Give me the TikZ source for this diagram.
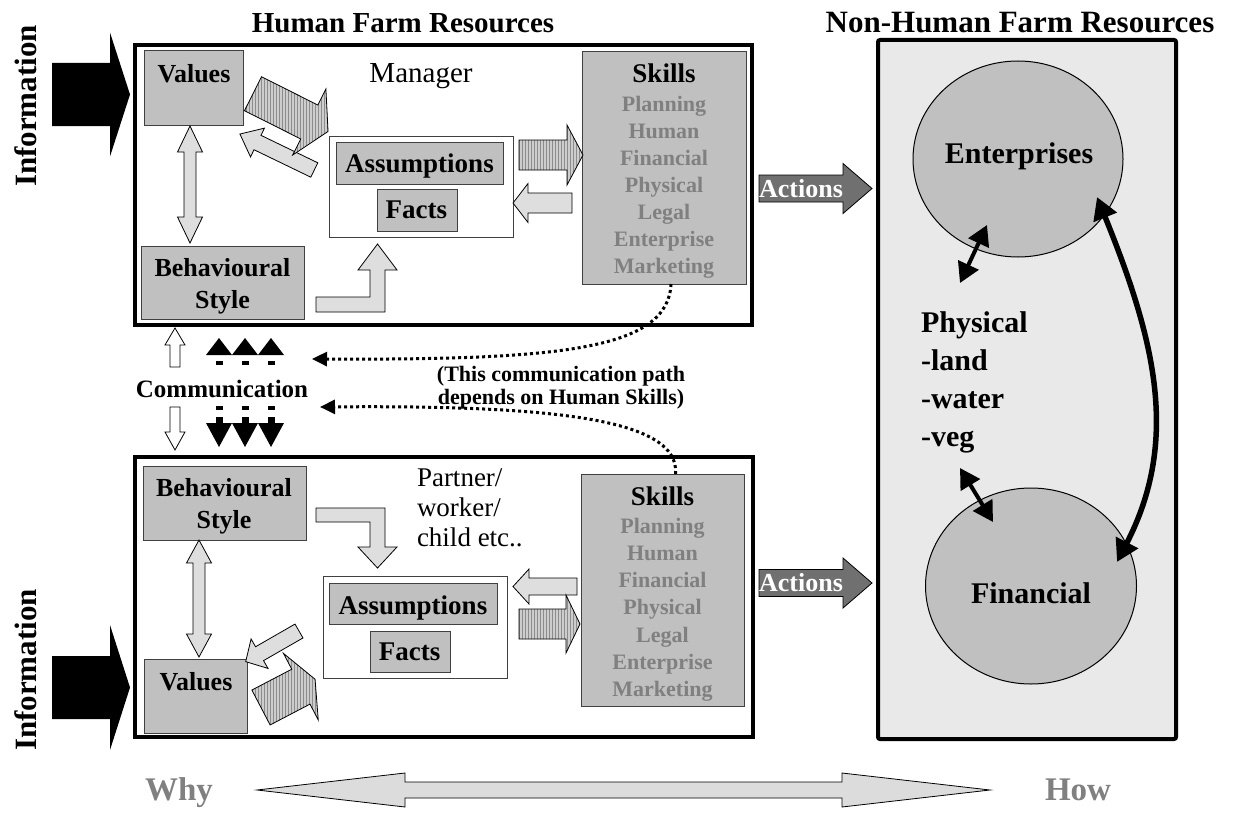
\documentclass[tikz,border=0pt]{standalone}
\usepackage{fontspec}
\setmainfont{Liberation Serif}
\usetikzlibrary{arrows.meta,shapes.geometric,fit,patterns}

\definecolor{boxgray}{RGB}{192,192,192}
\definecolor{panelgray}{RGB}{233,233,233}
\definecolor{txtgray}{RGB}{128,128,128}
\definecolor{hatchfill}{RGB}{205,205,205}
\definecolor{hatchline}{RGB}{140,140,140}
\definecolor{dotfill}{RGB}{222,222,222}
\definecolor{actfill}{RGB}{112,112,112}
\definecolor{sidefill}{RGB}{220,220,220}

\newcommand\setfs[1]{\fontsize{#1pt}{#1pt}\selectfont}

% block arrow: style, tail x, tail y, angle, length, shaft half-width, head half-width, head length
\newcommand\blockarrow[8]{%
  \begin{scope}[shift={(#2,#3)},rotate=#4]
    \path[#1] (0,-#6) -- ({#5-#8},-#6) -- ({#5-#8},-#7) -- (#5,0)
      -- ({#5-#8},#7) -- ({#5-#8},#6) -- (0,#6) -- cycle;
  \end{scope}}

% two-headed block arrow: style, first tip x, y, angle, length, shaft half-width, head half-width, head length
\newcommand\twowayarrow[8]{%
  \begin{scope}[shift={(#2,#3)},rotate=#4]
    \path[#1] (0,0) -- (#8,#7) -- (#8,#6) -- ({#5-#8},#6) -- ({#5-#8},#7) -- (#5,0)
      -- ({#5-#8},-#7) -- ({#5-#8},-#6) -- (#8,-#6) -- (#8,-#7) -- cycle;
  \end{scope}}

\begin{document}
\begin{tikzpicture}[x=1pt,y=-1pt,
  every node/.style={inner sep=0pt, outer sep=0pt},
  graybox/.style={draw=black!75, line width=1pt, fill=boxgray},
  whitebox/.style={draw=black!75, line width=1pt, fill=white},
  frame/.style={draw=black, line width=4pt},
  hatcharrow/.style={draw=black, line width=0.8pt, preaction={fill=hatchfill},
    pattern=vertical lines, pattern color=hatchline},
  dotarrow/.style={draw=black, line width=0.8pt, fill=dotfill},
  whitearrow/.style={draw=black, line width=0.8pt, fill=white},
  infoarrow/.style={fill=black},
  actarrow/.style={draw=black, line width=0.8pt, fill=actfill},
  sidearrow/.style={draw=black, line width=0.8pt, fill=sidefill},
  dotconn/.style={line width=3pt, dash pattern=on 3pt off 3pt,
    -{Triangle[length=15pt,width=14pt]}},
  blkdbl/.style={line width=4pt,
    {Triangle[length=20pt,width=22pt]}-{Triangle[length=20pt,width=22pt]}},
  bigdbl/.style={line width=5.5pt,
    {Triangle[length=22pt,width=24pt]}-{Triangle[length=22pt,width=24pt]}},
  lbl/.style={font=\bfseries\setfs{26}, anchor=base},
  item/.style={font=\bfseries\setfs{22}, text=txtgray, anchor=base},
  plain/.style={font=\setfs{27}, anchor=base west},
  acttext/.style={font=\bfseries\setfs{26}, text=white},
  big/.style={font=\bfseries\setfs{30}, anchor=base}
]
\useasboundingbox (0,0) rectangle (1234,816);
\fill[white] (0,0) rectangle (1234,816);

% ---------- headings ----------
\node[font=\bfseries\setfs{29}, anchor=base] (ttlH) at (403,33) {Human Farm Resources};
\node[font=\bfseries\setfs{31}, anchor=base] (ttlN) at (1020,33) {Non-Human Farm Resources};

% ---------- outer frames ----------
\node[frame, fit={(135,45) (752,325)}] (mgr) {};
\node[frame, fit={(135,457) (753,737)}] (prt) {};
\node[frame, fill=panelgray, rounded corners=2pt, fit={(878,40) (1176,739)}] (nonh) {};

% ---------- information inputs ----------
\blockarrow{infoarrow}{52}{94.5}{0}{78}{31.5}{62}{20}
\blockarrow{infoarrow}{52}{687.5}{0}{78}{31.5}{62.5}{20}
\node[font=\bfseries\setfs{31}, rotate=90] (inf1) at (26,106) {Information};
\node[font=\bfseries\setfs{31}, rotate=90] (inf2) at (26,670) {Information};

% ---------- manager ----------
\node[graybox, fit={(144,51) (243,125)}] (val1) {};
\node[lbl] (val1t) at (194,82) {Values};
\node[graybox, fit={(141,246) (304,319)}] (beh1) {};
\node[lbl] (beh1a) at (222.5,276.7) {Behavioural};
\node[lbl] (beh1b) at (222.5,308) {Style};
\twowayarrow{dotarrow}{190}{126}{-90}{117}{6}{12.5}{26}

\node[font=\setfs{29}, anchor=base] (mgrt) at (421,82) {Manager};
\node[whitebox, fit={(329,136) (513,237)}] (af1) {};
\node[graybox, fit={(336,142) (503,184)}] (ass1) {};
\node[lbl, font=\bfseries\setfs{27}] (ass1t) at (419.5,172.7) {Assumptions};
\node[graybox, fit={(377,189) (457,231)}] (fac1) {};
\node[lbl, font=\bfseries\setfs{27}] (fac1t) at (416.3,218.3) {Facts};

\node[graybox, fit={(582,52) (746,284)}] (sk1) {};
\node[lbl, font=\bfseries\setfs{27}] (sk1t) at (664,82.7) {Skills};
\foreach \s [count=\i from 0] in {Planning,Human,Financial,Physical,Legal,Enterprise,Marketing}
  \node[item] (sk1i\i) at (664,111+27*\i) {\s};

\blockarrow{hatcharrow}{519}{155}{0}{64}{15}{30}{16}
\blockarrow{dotarrow}{572}{203}{180}{59}{10}{19.5}{15}
\path[dotarrow] (316,297) -- (370,297) -- (370,270) -- (358,270) -- (377.5,244)
  -- (397,270) -- (385,270) -- (385,312) -- (316,312) -- cycle;
\blockarrow{dotarrow}{314.3}{170}{154.2}{82.6}{8}{16}{19.5}
\blockarrow{hatcharrow}{253}{93.7}{-26.7}{84}{19}{37}{21}

\blockarrow{actarrow}{759}{188.5}{0}{113}{13.5}{25}{29}
\node[acttext] (act1) at (801,188.5) {Actions};

% ---------- partner / worker ----------
\node[graybox, fit={(143,466) (306,540)}] (beh2) {};
\node[lbl] (beh2a) at (224,496.7) {Behavioural};
\node[lbl] (beh2b) at (224,528) {Style};
\node[graybox, fit={(144,659) (247,733)}] (val2) {};
\node[lbl] (val2t) at (196,690) {Values};
\twowayarrow{dotarrow}{199}{540}{-90}{117}{6}{12.5}{23}

\node[plain] (pw1) at (417,486.7) {Partner/};
\node[plain] (pw2) at (417,516.7) {worker/};
\node[plain] (pw3) at (417,546.7) {child etc..};

\node[whitebox, fit={(323,576) (507,678)}] (af2) {};
\node[graybox, fit={(329,583) (497,624)}] (ass2) {};
\node[lbl, font=\bfseries\setfs{27}] (ass2t) at (413,614) {Assumptions};
\node[graybox, fit={(370,631) (450,672)}] (fac2) {};
\node[lbl, font=\bfseries\setfs{27}] (fac2t) at (409.7,660) {Facts};

\node[graybox, fit={(581,474) (744,706)}] (sk2) {};
\node[lbl, font=\bfseries\setfs{27}] (sk2t) at (662.5,505) {Skills};
\foreach \s [count=\i from 0] in {Planning,Human,Financial,Physical,Legal,Enterprise,Marketing}
  \node[item] (sk2i\i) at (662.5,533+27.3*\i) {\s};

\blockarrow{dotarrow}{577}{586.5}{180}{64}{8.5}{17.5}{16}
\blockarrow{hatcharrow}{519}{624}{0}{61}{15}{29}{14}
\path[dotarrow] (316,508) -- (385,508) -- (385,547) -- (397,547) -- (377.5,568)
  -- (358,547) -- (370,547) -- (370,522) -- (316,522) -- cycle;
\blockarrow{dotarrow}{299}{631}{209.9}{61.5}{8}{17}{16}
\blockarrow{hatcharrow}{261}{707.5}{27.6}{61}{19.7}{37.5}{16}

\blockarrow{actarrow}{759}{583}{0}{113}{13.5}{25}{29}
\node[acttext] (act2) at (801,583) {Actions};

% ---------- communication ----------
\blockarrow{whitearrow}{175}{367}{90}{39}{5}{10}{17}
\blockarrow{whitearrow}{175}{407}{-90}{43}{5}{10}{18}
\foreach \x in {219,245,271} {
  \fill (\x-13,355) -- (\x+13,355) -- (\x,338) -- cycle;
  \fill (\x-3.5,361) rectangle (\x+3.5,365);
  \fill (\x-3.5,406) rectangle (\x+3.5,410);
  \fill (\x-3.5,417) rectangle (\x+3.5,424);
  \fill (\x-13,423) -- (\x+13,423) -- (\x,447) -- cycle;
}
\node[font=\bfseries\setfs{25}, anchor=base] (comm) at (222,397) {Communication};
\node[font=\bfseries\setfs{22}, anchor=base] (note1) at (561,381) {(This communication path};
\node[font=\bfseries\setfs{22}, anchor=base] (note2) at (561,404) {depends on Human Skills)};

\coordinate (tipA) at (312,359);
\coordinate (tipB) at (320,407);
\draw[dotconn] ([xshift=7pt]sk1.south) .. controls (668,350) and (560,360) .. (tipA);
\draw[dotconn] ([xshift=13pt]sk2.north) .. controls (680,420) and (560,405) .. (tipB);

% ---------- non-human resources ----------
\node[draw=black, line width=1pt, fill=boxgray, ellipse, minimum width=210pt,
  minimum height=196pt] (ent) at (1018,159) {};
\node[big] (entt) at (1019,163.3) {Enterprises};
\node[draw=black, line width=1pt, fill=boxgray, ellipse, minimum width=211pt,
  minimum height=196pt] (fin) at (1031,586) {};
\node[big] (fint) at (1031,603.3) {Financial};

\node[big, anchor=base west] (ph1) at (921,332) {Physical};
\node[big, anchor=base west] (ph2) at (921,370) {-land};
\node[big, anchor=base west] (ph3) at (921,408) {-water};
\node[big, anchor=base west] (ph4) at (921,446) {-veg};

\coordinate (entA) at (987,225);
\coordinate (phA) at (960,283);
\coordinate (phB) at (960,468);
\coordinate (finA) at (993,522);
\coordinate (entB) at (1097,197);
\coordinate (finB) at (1117,562);
\draw[blkdbl] (phA) -- (entA);
\draw[blkdbl] (phB) -- (finA);
\draw[bigdbl] (entB) .. controls (1155,340) and (1180,440) .. (finB);

% ---------- why / how ----------
\twowayarrow{sidearrow}{257}{790}{0}{733}{8}{17}{148}
\node[font=\bfseries\setfs{33}, text=txtgray, anchor=base] (why) at (179,800) {Why};
\node[font=\bfseries\setfs{33}, text=txtgray, anchor=base] (how) at (1078,800) {How};
\end{tikzpicture}
\end{document}
